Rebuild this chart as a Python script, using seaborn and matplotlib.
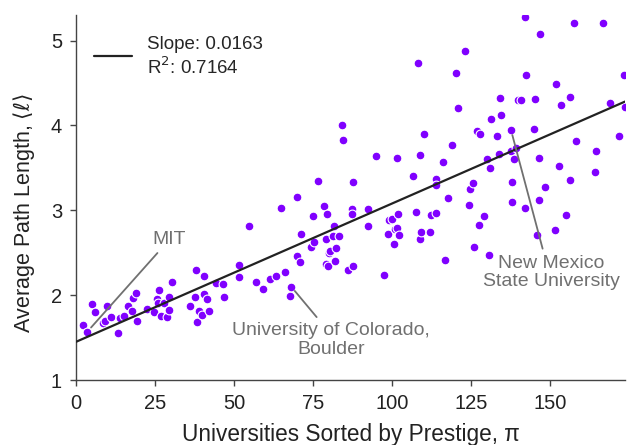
import numpy as np
import pandas as pd
import seaborn as sns
import matplotlib
matplotlib.use("Agg")
import matplotlib.pyplot as plt
from matplotlib.lines import Line2D

# prestige rank (x) and average path length (y)
prestige = [
    2.2, 3.6, 5.2, 6.0, 8.6, 9.2, 9.7, 11.1, 13.4, 13.9, 15.3, 16.4, 17.8, 18.1, 18.9,
    19.4, 22.6, 24.8, 25.7, 26.0, 26.3, 26.9, 27.9, 28.7, 29.4, 29.5, 30.5, 36.1, 37.7,
    37.9, 38.2, 39.0, 39.8, 40.5, 40.5, 41.4, 42.2, 44.3, 46.4, 46.8, 51.7, 51.7, 54.8,
    56.9, 59.1, 61.4, 63.2, 65.0, 66.2, 67.8, 68.1, 69.8, 70.0, 70.8, 71.2, 74.5, 75.0,
    75.3, 76.5, 78.6, 79.0, 79.3, 79.2, 79.6, 80.0, 80.4, 81.4, 81.7, 82.0, 82.4, 83.3,
    84.1, 84.6, 86.2, 87.2, 87.4, 87.6, 87.8, 92.5, 92.5, 95.0, 97.4, 98.8, 99.1, 99.9,
    100.7, 100.8, 101.5, 101.7, 102.0, 102.1, 106.6, 107.5, 108.3, 108.8, 108.8, 109.3,
    110.2, 112.0, 112.2, 113.8, 113.8, 113.9, 116.2, 116.9, 117.8, 119.1, 120.3, 120.9,
    123.2, 124.4, 124.6, 125.6, 125.9, 126.8, 127.4, 127.8, 129.2, 130.1, 130.8, 130.9,
    131.2, 133.2, 133.9, 134.3, 134.6, 137.6, 137.7, 138.0, 138.1, 138.7, 139.2, 139.9,
    140.8, 142.1, 142.2, 142.3, 144.8, 145.3, 145.7, 146.5, 146.6, 146.9, 148.3, 151.5,
    151.8, 152.8, 153.5, 155.0, 156.2, 156.4, 157.7, 158.2, 164.3, 164.6, 166.7, 169.1,
    171.7, 173.4, 173.8,
]
path_length = [
    1.65, 1.57, 1.90, 1.80, 1.67, 1.70, 1.87, 1.74, 1.55, 1.73, 1.75, 1.87, 1.81, 1.97, 2.02,
    1.70, 1.84, 1.80, 1.96, 1.91, 2.06, 1.76, 1.91, 1.74, 1.82, 1.98, 2.15, 1.87, 1.98,
    2.30, 1.68, 1.81, 1.77, 2.23, 2.01, 1.95, 1.81, 2.14, 2.13, 1.98, 2.35, 2.21, 2.81,
    2.15, 2.07, 2.19, 2.23, 3.03, 2.27, 1.99, 2.10, 2.46, 3.16, 2.39, 2.72, 2.57, 2.93,
    2.63, 3.34, 3.05, 2.66, 2.96, 2.37, 2.34, 2.50, 2.52, 2.70, 2.82, 2.40, 2.55, 2.70,
    4.00, 3.83, 2.30, 3.02, 2.96, 2.34, 3.33, 3.02, 2.81, 3.64, 2.24, 2.72, 2.88, 2.90,
    2.60, 2.78, 2.79, 3.62, 2.96, 2.71, 3.40, 2.98, 4.74, 3.65, 2.66, 2.75,
    3.90, 2.74, 2.95, 3.37, 3.30, 2.97, 3.57, 2.41, 3.15, 3.77, 4.62, 4.20,
    4.88, 3.06, 3.25, 3.32, 2.57, 3.93, 2.83, 3.90, 2.93, 3.61, 2.47, 3.50,
    4.08, 3.87, 3.66, 4.32, 4.12, 3.95, 3.70, 3.10, 3.33, 3.61, 3.74, 4.30,
    4.30, 5.28, 3.03, 4.60, 3.96, 4.31, 2.71, 3.62, 3.12, 5.08, 3.28, 2.77,
    4.49, 3.52, 4.24, 2.95, 3.36, 4.34, 5.21, 3.82, 3.45, 3.70, 5.21, 4.26,
    3.87, 4.59, 4.22,
]

slope = 0.0163
intercept = 1.45
r_squared = 0.7164

labels = ["MIT", "University of Colorado,\nBoulder", "New Mexico\nState University"]
label_points = [(3.6, 1.57), (68.1, 2.10), (137.6, 3.95)]
label_text_pos = [(29.4, 2.66), (80.7, 1.47), (150.3, 2.27)]
label_relpos = [(0.3, 0.0), (0.45, 1.0), (0.45, 1.0)]

df = pd.DataFrame({"prestige": prestige, "length": path_length})

sns.set_theme(style="ticks")
plt.rcParams["font.family"] = ["Liberation Sans", "DejaVu Sans"]
plt.rcParams["mathtext.fontset"] = "dejavusans"

fig, ax = plt.subplots(figsize=(6.31, 4.45), dpi=100)
fig.subplots_adjust(left=0.1204, right=0.9905, bottom=0.146, top=0.966)

sns.scatterplot(data=df, x="prestige", y="length", color="#8000ff", s=40,
                edgecolor="white", linewidth=0.8, ax=ax, zorder=2)

xmax = 173.7
xs = np.array([0, xmax])
ax.plot(xs, intercept + slope * xs, color="#222222", lw=1.6, zorder=3)

for txt, pt, tp, rp in zip(labels, label_points, label_text_pos, label_relpos):
    ax.annotate(txt, xy=pt, xytext=tp, textcoords="data", ha="center", va="center",
                color="#707070", fontsize=14, linespacing=1.1,
                arrowprops=dict(arrowstyle="-", color="#707070", lw=1.3,
                                shrinkA=2, shrinkB=4, relpos=rp))

handle = Line2D([], [], color="#222222", lw=1.6)
ax.legend([handle], [f"Slope: {slope:.4f}\nR$^2$: {r_squared:.4f}"], loc="upper left",
          frameon=False, fontsize=13.5, handlelength=2.0, borderaxespad=0.2,
          bbox_to_anchor=(0.013, 0.975))

ax.set_xlim(0, xmax)
ax.set_ylim(1, 5.3)
ax.set_xticks([0, 25, 50, 75, 100, 125, 150])
ax.set_yticks([1, 2, 3, 4, 5])
ax.set_xlabel("Universities Sorted by Prestige, π", fontsize=16.3, color="#222222", labelpad=7)
ax.set_ylabel(r"Average Path Length, $\langle\ell\rangle$", fontsize=15.5, color="#222222", labelpad=10)
ax.yaxis.label.set_y(0.456)
ax.tick_params(labelsize=14.5, colors="#222222", length=4, width=1, color="#444444", pad=6)
for side in ["left", "bottom"]:
    ax.spines[side].set_color("#444444")
    ax.spines[side].set_linewidth(1)
sns.despine(ax=ax)

fig.savefig("out.png", dpi=100)
